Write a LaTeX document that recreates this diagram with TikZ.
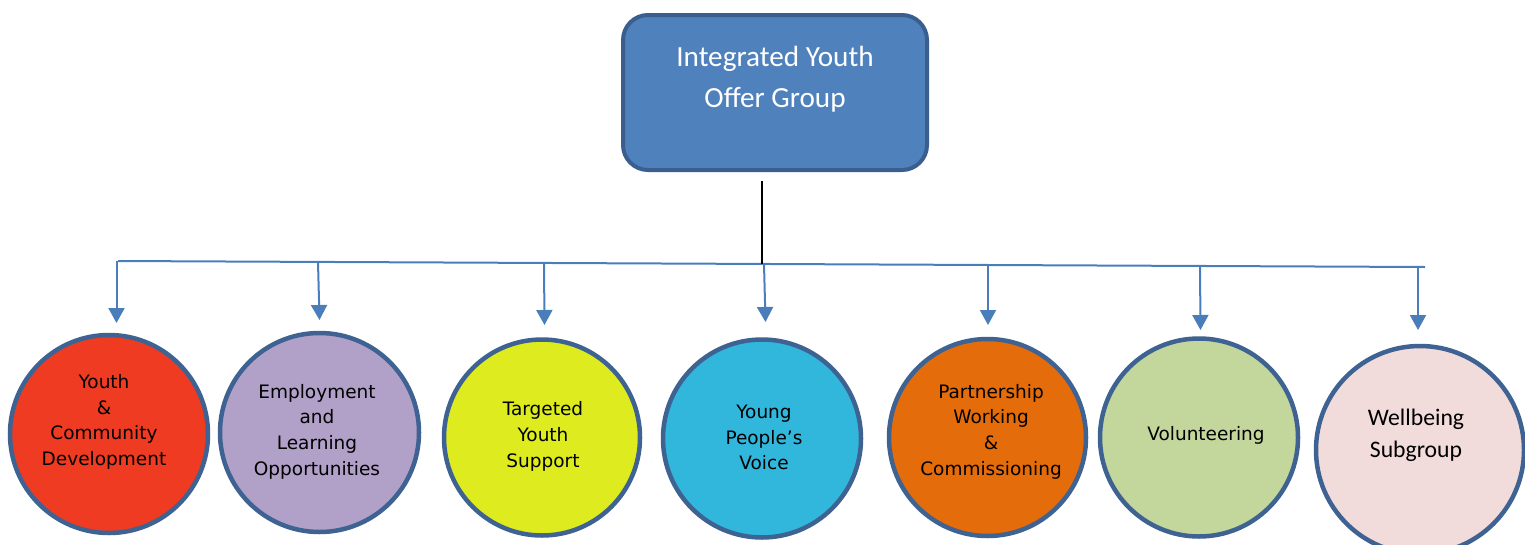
\documentclass[tikz,border=0pt]{standalone}
\usepackage{fontspec}
\setmainfont{DejaVu Sans}
\newfontfamily\calib{Carlito}
\usetikzlibrary{arrows.meta}
\definecolor{boxfill}{HTML}{4F81BD}
\definecolor{boxline}{HTML}{3A5F8E}
\definecolor{cline}{HTML}{3E6393}
\definecolor{busblue}{HTML}{4A7EBB}
\definecolor{cred}{HTML}{EE3B22}
\definecolor{cpurple}{HTML}{B1A0C7}
\definecolor{cyellow}{HTML}{DDEB1F}
\definecolor{ccyan}{HTML}{31B7DB}
\definecolor{corange}{HTML}{E46C0A}
\definecolor{cgreen}{HTML}{C3D69B}
\definecolor{cpink}{HTML}{F2DCDB}
\tikzset{
  disc/.style={circle, draw=cline, line width=4.5pt, inner sep=0pt, minimum size=#1},
  ctext/.style={align=center, font=\fontsize{18.5}{25.7}\selectfont, inner sep=0pt},
  wtext/.style={align=center, font=\calib\fontsize{23.7}{32}\selectfont, inner sep=0pt},
  arr/.style={draw=busblue, line width=2pt, -{Triangle[width=16pt,length=15pt]}},
  bus/.style={draw=busblue, line width=2pt},
}
\begin{document}
\begin{tikzpicture}[x=1pt,y=-1pt]
\useasboundingbox (0,0) rectangle (1525,544);
% top box
\node[draw=boxline, fill=boxfill, line width=4pt, rounded corners=25pt,
      minimum width=304pt, minimum height=155pt, inner sep=0pt] (top) at (775,92.5) {};
\node[align=center, text=white, font=\calib\fontsize{29.2}{41}\selectfont, inner sep=0pt] (toptext) at (775,79) {Integrated Youth\\Offer Group};
% bus
\coordinate (busL) at (118,261);
\coordinate (busR) at (1425,267);
\coordinate (busM) at (762,264);
\draw[bus] (busL) -- (busR);
\draw[black, line width=2pt] ([yshift=-9pt]top.south -| busM) -- (busM);
% circles
\node[disc=198pt, fill=cred] (c1) at (109,434) {};
\node[disc=199pt, fill=cpurple] (c2) at (319.5,432.5) {};
\node[disc=196pt, fill=cyellow] (c3) at (542,437.5) {};
\node[disc=198pt, fill=ccyan] (c4) at (762,438.5) {};
\node[disc=197pt, fill=corange] (c5) at (987.5,437.5) {};
\node[disc=198pt, fill=cgreen] (c6) at (1199,437.5) {};
\node[disc=208pt, fill=cpink] (c7) at (1420,450) {};
% texts
\node[ctext] (t1) at (104,422) {Youth\\\&\\Community\\Development};
\node[ctext] (t2) at (317,431.5) {Employment\\and\\Learning\\Opportunities};
\node[ctext] (t3) at (543,436.5) {Targeted\\Youth\\Support};
\node[ctext] (t4) at (764,437.5) {Young\\People’s\\Voice};
\node[ctext] (t5) at (991,431.5) {Partnership\\Working\\\&\\Commissioning};
\node[ctext] (t6) at (1206,435) {Volunteering};
\node[wtext] (t7) at (1416,435) {Wellbeing\\Subgroup};
% taps
\coordinate (b1) at (116.5,261);
\coordinate (b2) at (318,262);
\coordinate (b3) at (544,263);
\coordinate (b4) at (764,264);
\coordinate (b5) at (988,265);
\coordinate (b6) at (1200,266);
\coordinate (b7) at (1418,267);
\draw[arr] (b1) -- (116.5,323);
\draw[arr] (b2) -- (319.5,320);
\draw[arr] (b3) -- (544.5,325);
\draw[arr] (b4) -- (765.5,322);
\draw[arr] (b5) -- (988,325);
\draw[arr] (b6) -- (1200.5,330);
\draw[arr] (b7) -- (1418,330);
\end{tikzpicture}
\end{document}
